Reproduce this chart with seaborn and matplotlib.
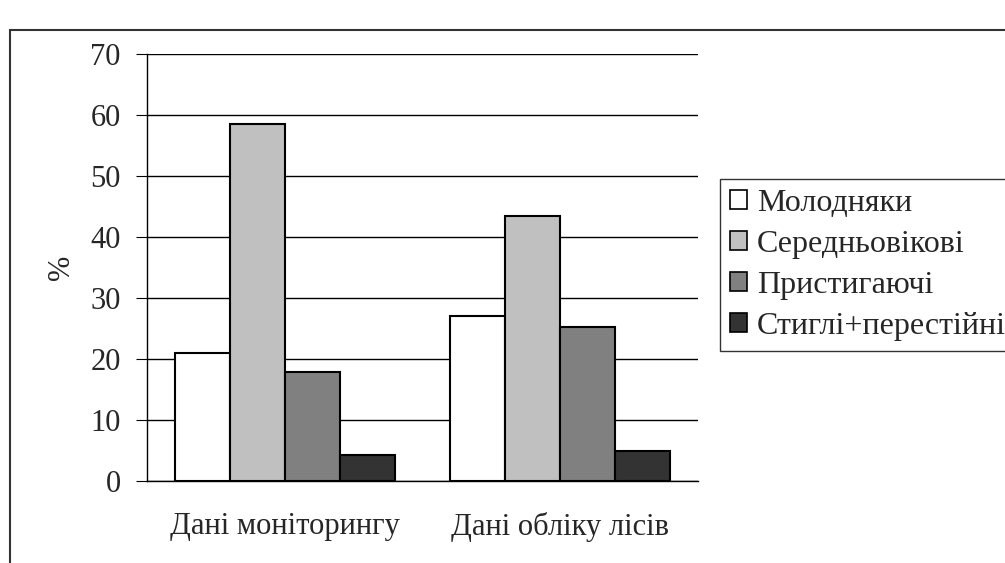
import numpy as np
import pandas as pd
import matplotlib
matplotlib.use('Agg')
import matplotlib.pyplot as plt
from matplotlib.patches import Rectangle, Patch
import seaborn as sns

# data
groups = ['Дані моніторингу', 'Дані обліку лісів']
ages = ['Молодняки', 'Середньовікові', 'Пристигаючі', 'Стиглі+перестійні']
monitoring = [21.0, 58.5, 17.9, 4.2]
forest_account = [27.0, 43.5, 25.2, 5.0]
colors = ['#ffffff', '#c0c0c0', '#808080', '#333333']

df = pd.DataFrame({
    'group': [groups[0]] * 4 + [groups[1]] * 4,
    'age': ages + ages,
    'value': monitoring + forest_account,
})

sns.set_style('white')
plt.rcParams['font.family'] = ['Liberation Serif', 'DejaVu Serif']

fig = plt.figure(figsize=(10.05, 5.63), dpi=100)
ax = fig.add_axes([147/1005, 1-481/563, 551/1005, 427/563])

sns.barplot(data=df, x='group', y='value', hue='age', hue_order=ages,
            palette=colors, edgecolor='black', linewidth=1.5,
            width=0.8, gap=0, ax=ax, legend=False, zorder=3)

ax.set_ylim(0, 70)
ax.set_xlim(-0.5, 1.5)
ax.set_yticks(range(0, 71, 10))
ax.yaxis.grid(True, color='black', linewidth=1, zorder=0)
ax.set_axisbelow(True)
for s in ['top', 'right']:
    ax.spines[s].set_visible(False)
for s in ['left', 'bottom']:
    ax.spines[s].set_color('black')
    ax.spines[s].set_linewidth(1)

ax.set_xticks([0, 1])
ax.set_xticklabels(groups, fontsize=22)
ax.tick_params(axis='x', length=0, pad=22)
ax.set_xticks([-0.5, 0.5, 1.5], minor=True)
ax.tick_params(axis='x', which='minor', length=7, color='gray', width=1.5, direction='out')
ax.tick_params(axis='y', labelsize=22, length=8, color='black', left=True, direction='out', pad=11)
ax.set_xlabel('')
ax.set_ylabel('%', fontsize=22, labelpad=10)

handles = [Patch(facecolor=c, edgecolor='black', linewidth=1.2) for c in colors]
leg = fig.legend(handles, ages, loc='upper left', bbox_to_anchor=(720/1005, 1-179/563),
                 fontsize=23, frameon=True, fancybox=False, edgecolor='black',
                 handlelength=0.55, handleheight=0.55, handletextpad=0.3,
                 labelspacing=0.38, borderpad=0.3, borderaxespad=0)
leg.get_frame().set_linewidth(1)

# outer frame of the chart object
fig.add_artist(Rectangle((10/1005, -0.1), 1.2, 1-30/563+0.1, transform=fig.transFigure,
                         fill=False, edgecolor='#333333', linewidth=1.5, clip_on=False))

fig.savefig('out.png', dpi=100)
